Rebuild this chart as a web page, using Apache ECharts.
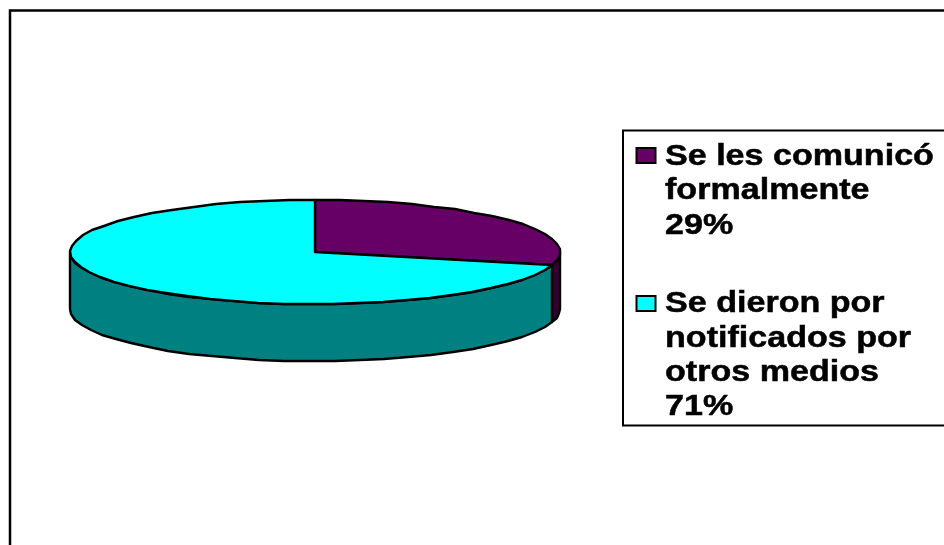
<!DOCTYPE html>
<html>
<head>
<meta charset="utf-8">
<style>html,body{margin:0;padding:0;background:#fff}#c{width:944px;height:545px}</style>
<script src="https://cdn.jsdelivr.net/npm/echarts@6/dist/echarts.min.js"></script>
</head>
<body>
<div id="c"></div>
<script>
var categories = ['Se les comunicó\nformalmente\n29%', 'Se dieron por\nnotificados por\notros medios\n71%'];
var shares = [29, 71];
var topColors = ['#660066', '#00FFFF'];
var sideColors = ['#330033', '#008080'];

var CX = 315, CY = 252, RX = 245, RY = 52, DEPTH = 57;
var total = shares.reduce(function (a, b) { return a + b; }, 0);

function pt(share, dy) {
  var t = share / total * 2 * Math.PI;
  return [Math.round(CX + RX * Math.sin(t)), Math.round(CY - RY * Math.cos(t) + dy)];
}
function arc(from, to, dy) {
  var pts = [], n = Math.max(2, Math.ceil((to - from) / total * 60));
  for (var i = 0; i <= n; i++) pts.push(pt(from + (to - from) * i / n, dy));
  return pts;
}
var frontStart = total * 0.25, frontEnd = total * 0.75;

function renderSlice(params, api) {
  var s = api.value(0), e = api.value(1), kids = [];
  var a = Math.max(s, frontStart), b = Math.min(e, frontEnd);
  var line = { stroke: '#000', lineWidth: 2.4, lineJoin: 'round' };
  if (a < b) {
    var upper = arc(a, b, 0), lower = arc(a, b, DEPTH).reverse();
    kids.push({ type: 'polygon', shape: { points: upper.concat(lower) },
      style: Object.assign({ fill: sideColors[params.seriesIndex] }, line) });
  }
  kids.push({ type: 'polygon', shape: { points: [[CX, CY]].concat(arc(s, e, 0)) },
    style: Object.assign({ fill: topColors[params.seriesIndex] }, line) });
  return { type: 'group', children: kids };
}

var cum = 0;
var series = shares.map(function (v, i) {
  var d = [cum, cum + v]; cum += v;
  return { type: 'custom', name: categories[i], coordinateSystem: 'none',
    renderItem: renderSlice, data: [d], silent: true, animation: false,
    itemStyle: { color: topColors[i] } };
});

var textTop = [139.5, 287], swatchTop = [148, 296];
var graphics = [
  { type: 'rect', z: 1, shape: { x: 10, y: 10.5, width: 1200, height: 800 }, style: { fill: 'none', stroke: '#000', lineWidth: 2.5 } },
  { type: 'rect', z: 1, shape: { x: 623, y: 130.5, width: 600, height: 295 }, style: { fill: '#fff', stroke: '#000', lineWidth: 2 } }
];
categories.forEach(function (name, i) {
  graphics.push({ type: 'rect', z: 2, shape: { x: 636.5, y: swatchTop[i], width: 19, height: 15 },
    style: { fill: topColors[i], stroke: '#000', lineWidth: 2 } });
  graphics.push({ type: 'text', z: 2, x: 665, y: textTop[i], scaleX: 1.175,
    style: { text: name, fill: '#000', stroke: '#000', lineWidth: 0.5, font: 'bold 29px "Liberation Sans", Arial, sans-serif', lineHeight: 34.4, textVerticalAlign: 'top', verticalAlign: 'top' } });
});

var chart = echarts.init(document.getElementById('c'), null, { renderer: 'canvas' });
chart.setOption({ animation: false, backgroundColor: '#fff', series: series, graphic: graphics });
</script>
</body>
</html>
